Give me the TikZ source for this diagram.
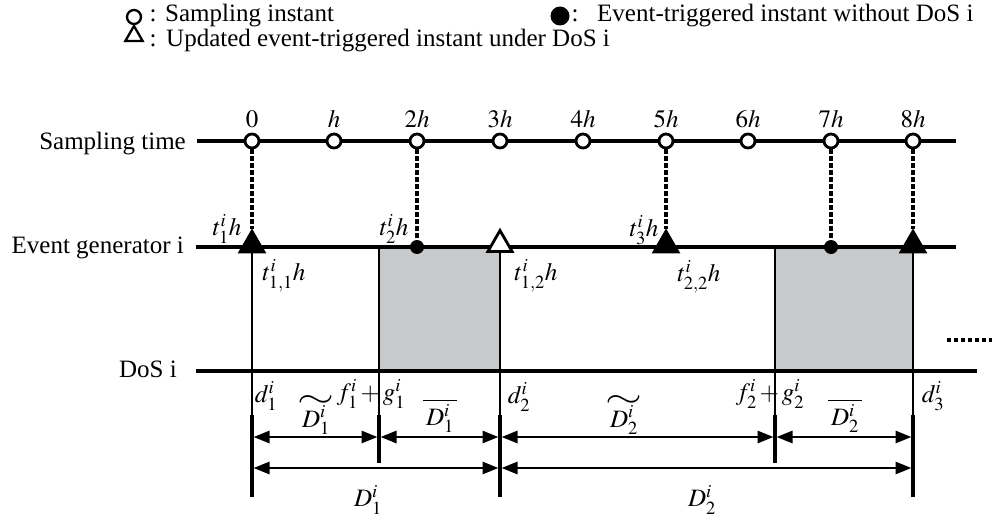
\documentclass[tikz,border=0pt]{standalone}
\usepackage{mathptmx}
\usepackage{fontspec}
\setmainfont{Liberation Serif}
\usetikzlibrary{arrows.meta,shapes.geometric}
\definecolor{dosgray}{HTML}{C8C9CB}
\newcommand{\wtil}[1]{\vbox{\offinterlineskip\halign{\hfil##\hfil\cr\scalebox{1.9}[1.3]{$\sim$}\cr\noalign{\kern-2pt}$#1$\cr}}}
\newcommand{\wbar}[1]{\mathord{\overline{\,#1\,}}}
\begin{document}
\begin{tikzpicture}[x=1pt,y=-1pt,
  every node/.style={inner sep=0pt,font=\fontsize{25}{30}\selectfont},
  axis/.style={line width=3.2pt},
  vthin/.style={line width=2.8pt},
  vthick/.style={line width=4.2pt},
  dim/.style={line width=2.8pt,{Triangle[length=16pt,width=12pt]}-{Triangle[length=16pt,width=12pt]},shorten <=1.5pt,shorten >=1.5pt},
  samp/.style={circle,draw,fill=white,line width=2.8pt,minimum size=14pt},
  evt/.style={circle,fill=black,minimum size=14pt},
  trif/.style={regular polygon,regular polygon sides=3,fill=black,draw=black,line width=1pt,minimum size=31pt},
  trio/.style={regular polygon,regular polygon sides=3,fill=white,draw=black,line width=2.8pt,minimum size=28pt},
  proj/.style={line width=3.2pt,dash pattern=on 4.5pt off 2.5pt},
  lab/.style={anchor=center}
]
\useasboundingbox (0,0) rectangle (992,519);

% legend
\node[samp,minimum size=14pt,line width=2.3pt] (lgA) at (134,17) {};
\node[anchor=base] (lgAc) at (153,22) {:};
\node[anchor=base west] (lgAt) at (165,22) {Sampling instant};
\node[regular polygon,regular polygon sides=3,draw,line width=2.3pt,minimum size=20pt] (lgB) at (134,36) {};
\node[anchor=base] (lgBc) at (153,47) {:};
\node[anchor=base west] (lgBt) at (166,47) {Updated event-triggered instant under DoS i};
\node[circle,fill=black,minimum size=19pt] (lgC) at (560,16) {};
\node[anchor=base] (lgCc) at (575,22) {:};
\node[anchor=base west] (lgCt) at (597,22) {Event-triggered instant without DoS i};

% row labels
\node[anchor=base east] (lS) at (186,149) {Sampling time};
\node[anchor=base east] (lE) at (184,253) {Event generator i};
\node[anchor=base east] (lD) at (177,377) {DoS i};

% shaded DoS intervals
\fill[dosgray] (379,247) rectangle (500,371);
\fill[dosgray] (775,247) rectangle (913,371);

% axes
\coordinate (sA) at (197,141); \coordinate (sB) at (956,141);
\coordinate (eA) at (196,247); \coordinate (eB) at (956,247);
\coordinate (dA) at (196,371); \coordinate (dB) at (977,371);
\draw[axis] (sA) -- (sB);
\draw[axis] (eA) -- (eB);
\draw[axis] (dA) -- (dB);

% vertical lines
\foreach \x/\e/\n in {252/497/a,379/463/b,500/497/c,775/463/d,913/497/e}{
  \coordinate (vt\n) at (\x,247);
  \coordinate (vm\n) at (\x,415);
  \coordinate (vb\n) at (\x,\e);
  \draw[vthin] (vt\n) -- (vm\n);
  \draw[vthick] (vm\n) -- (vb\n);
}

% dimension arrows
\coordinate (r1a) at (252,437); \coordinate (r1b) at (379,437);
\coordinate (r1c) at (500,437); \coordinate (r1d) at (775,437);
\coordinate (r1e) at (913,437);
\coordinate (r2a) at (252,468); \coordinate (r2c) at (500,468);
\coordinate (r2e) at (913,468);
\draw[dim] (r1a) -- (r1b);
\draw[dim] (r1b) -- (r1c);
\draw[dim] (r1c) -- (r1d);
\draw[dim] (r1d) -- (r1e);
\draw[dim] (r2a) -- (r2c);
\draw[dim] (r2c) -- (r2e);

% sampling instants
\foreach \i/\x/\t in {0/252/0,1/334/h,2/417/2h,3/500/3h,4/583/4h,5/666/5h,6/748/6h,7/831/7h,8/913/8h}{
  \node[samp] (s\i) at (\x,141) {};
  \node[anchor=base] (st\i) at (\x,127) {$\t$};
}

% event generator markers
\node[trif] (e0) at (252,245) {};
\node[evt]  (e2) at (417,247) {};
\node[trio] (e3) at (500,244.5) {};
\node[trif] (e5) at (666,245) {};
\node[evt]  (e7) at (831,247) {};
\node[trif] (e8) at (913,245) {};

\draw[proj] (s0.south) -- (e0.north);
\draw[proj] (s2.south) -- (e2.north);
\draw[proj] (s5.south) -- (e5.north);
\draw[proj] (s7.south) -- (e7.north);
\draw[proj] (s8.south) -- (e8.north);

% event labels
\node[lab] (l1) at (227,229) {$t_1^i h$};
\node[lab] (l2) at (394,229) {$t_2^i h$};
\node[lab] (l3) at (644,230) {$t_3^i h$};
\node[lab] (l11) at (284,276) {$t_{1,1}^i h$};
\node[lab] (l12) at (536,276) {$t_{1,2}^i h$};
\node[lab] (l22) at (699,277) {$t_{2,2}^i h$};

% DoS labels
\node[lab] (d1) at (266,396) {$d_1^i$};
\node[lab] (d2) at (519,397) {$d_2^i$};
\node[lab] (d3) at (933,396) {$d_3^i$};
\node[lab] (fg1) at (371,394) {$f_1^i\,{+}\,g_1^i$};
\node[lab] (fg2) at (770,394) {$f_2^i\,{+}\,g_2^i$};
\node[anchor=base] (Dt1) at (316,427) {\wtil{D_1^i}};
\node[lab] (Db1) at (440,416) {$\wbar{D_1^i}$};
\node[anchor=base] (Dt2) at (624,427) {\wtil{D_2^i}};
\node[lab] (Db2) at (845,416) {$\wbar{D_2^i}$};
\node[lab] (D1) at (368,500) {$D_1^i$};
\node[lab] (D2) at (702,500) {$D_2^i$};

% continuation dots
\coordinate (cA) at (947,340); \coordinate (cB) at (992,340);
\draw[line width=4pt,dash pattern=on 4pt off 3pt] (cA) -- (cB);
\end{tikzpicture}
\end{document}
